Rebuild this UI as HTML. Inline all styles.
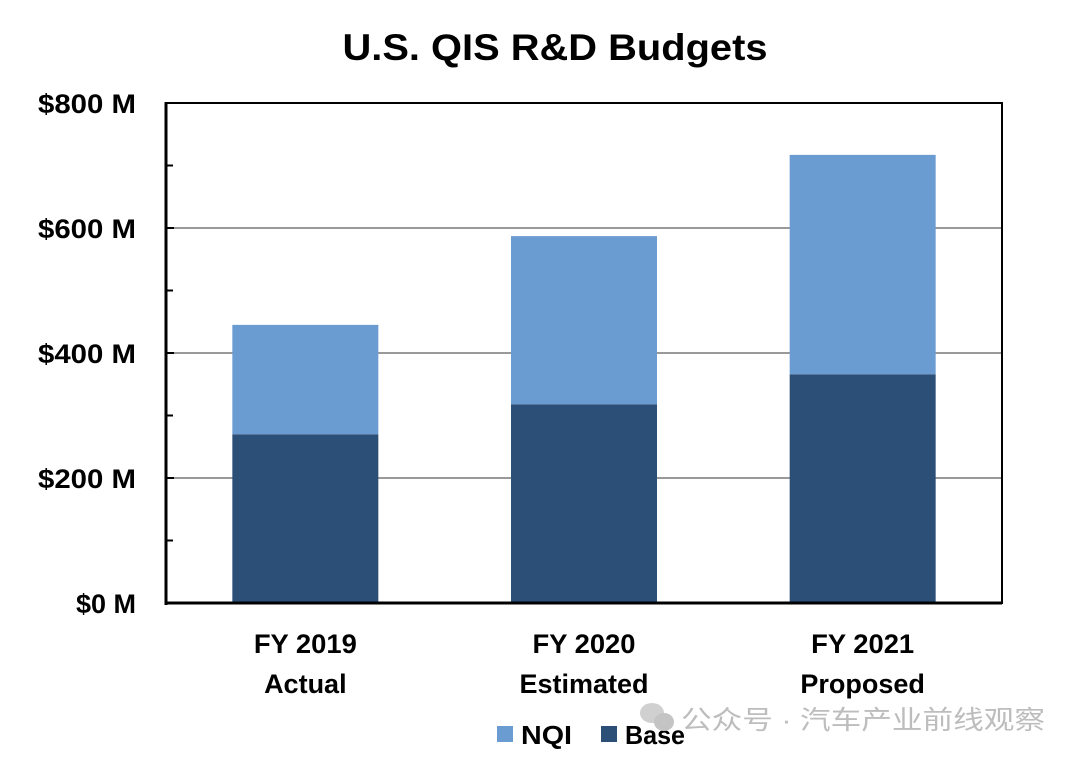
<!DOCTYPE html>
<html><head><meta charset="utf-8"><style>
body{margin:0;background:#fff;width:1080px;height:763px;overflow:hidden}
svg text{font-family:"Liberation Sans","Noto Sans CJK SC",sans-serif}
</style></head><body>
<svg id="chart" width="1080" height="763">
<text x="555" y="60" text-anchor="middle" font-size="37" font-weight="bold" fill="#000" textLength="425" lengthAdjust="spacingAndGlyphs">U.S. QIS R&amp;D Budgets</text>
<g id="grid"></g><g id="bars"></g><g id="axes"></g><g id="labels"></g>
<g>
<rect x="497" y="726" width="16" height="16" fill="#6a9bd1"/>
<text x="521" y="744" font-size="26" font-weight="bold" textLength="51" lengthAdjust="spacingAndGlyphs">NQI</text>
<rect x="601" y="726" width="16" height="16" fill="#2c4f77"/>
<text x="625" y="744" font-size="26" font-weight="bold" textLength="60" lengthAdjust="spacingAndGlyphs">Base</text>
</g>
<g fill="#c8c8c8">
<ellipse cx="652" cy="713" rx="12" ry="10" fill="#d0d0d0"/>
<ellipse cx="664" cy="722" rx="10" ry="9" fill="#c4c4c4"/>
<text x="681" y="729" font-size="26" fill="#bdbdbd" textLength="364" lengthAdjust="spacingAndGlyphs">公众号 · 汽车产业前线观察</text>
</g>
</svg>
<script>
const categories1=["FY 2019","FY 2020","FY 2021"];
const categories2=["Actual","Estimated","Proposed"];
const baseValues=[270,318,366];
const nqiValues=[175,269,351];
const tickValues=[0,200,400,600,800];
const tickLabels=["$0 M","$200 M","$400 M","$600 M","$800 M"];
const NS="http://www.w3.org/2000/svg";
const L=166,R=1002,T=103,B=603,maxV=800;
const y=v=>B-(v/maxV)*(B-T);
const bw=146;
const xc=i=>L+(i+0.5)*(R-L)/categories1.length;
function mk(tag,attrs,parent){const e=document.createElementNS(NS,tag);for(const k in attrs)e.setAttribute(k,attrs[k]);document.getElementById(parent).appendChild(e);return e;}
tickValues.forEach((v,i)=>{
 if(v>0&&v<maxV){const g=mk('line',{x1:L,x2:R,y1:y(v),y2:y(v),stroke:'#999','stroke-width':2},'grid');
 
 }
 const t=mk('line',{x1:L,x2:L+8,y1:y(v),y2:y(v),stroke:'#000','stroke-width':2},'axes');
 
 
 if(i<tickValues.length-1){const m=mk('line',{x1:L,x2:L+7,y1:y(v+100),y2:y(v+100),stroke:'#000','stroke-width':2},'axes');
 
 }
 const lb=mk('text',{x:136,y:y(v)+10,'text-anchor':'end','font-size':27,'font-weight':'bold'},'labels');
 lb.textContent=tickLabels[i];
 if(tickLabels[i].length>4){lb.setAttribute('textLength',98);lb.setAttribute('lengthAdjust','spacingAndGlyphs');}
 
 
});
categories1.forEach((c,i)=>{
 const x=xc(i)-bw/2;
 const b=mk('rect',{x:x,y:y(baseValues[i]),width:bw,height:B-y(baseValues[i]),fill:'#2c4f77'},'bars');
 
 
 const n=mk('rect',{x:x,y:y(baseValues[i]+nqiValues[i]),width:bw,height:y(baseValues[i])-y(baseValues[i]+nqiValues[i]),fill:'#6a9bd1'},'bars');
 
 
 const t1=mk('text',{x:xc(i),y:653,'text-anchor':'middle','font-size':27,'font-weight':'bold',textLength:103,lengthAdjust:'spacingAndGlyphs'},'labels');
 t1.textContent=c;
 
 
 const t2=mk('text',{x:xc(i),y:693,'text-anchor':'middle','font-size':27,'font-weight':'bold'},'labels');
 t2.textContent=categories2[i];
 
 
});
const f=mk('rect',{x:L,y:T,width:R-L,height:B-T,fill:'none',stroke:'#000','stroke-width':2},'axes');


const ax=mk('line',{x1:L,x2:L,y1:T-1,y2:B+2,stroke:'#000','stroke-width':3},'axes');


const bx=mk('line',{x1:L,x2:R,y1:B,y2:B,stroke:'#000','stroke-width':3},'axes');


</script>
</body></html>
